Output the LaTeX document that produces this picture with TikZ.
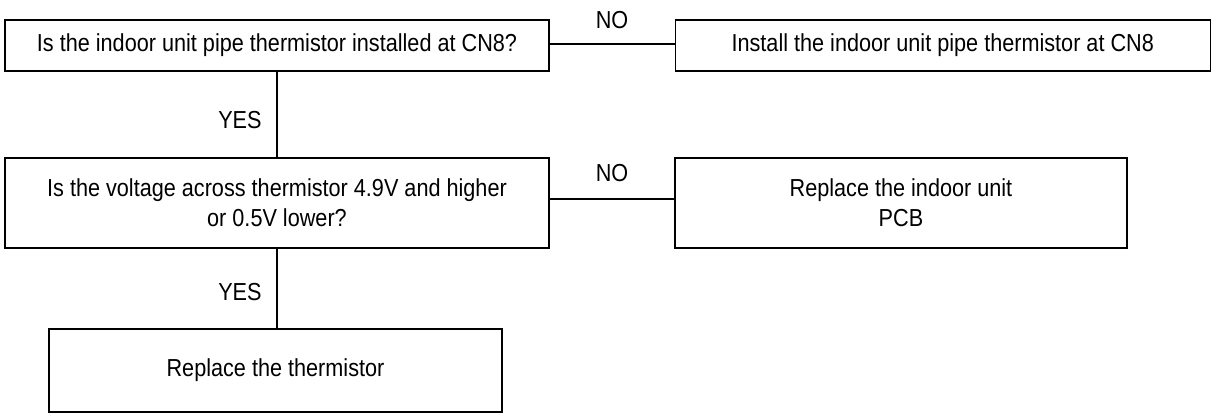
\documentclass[tikz,border=0pt]{standalone}
\usepackage{fontspec}
\setmainfont{Liberation Sans}[FakeStretch=0.88]
\usepackage{tikz}
\tikzset{
        stepbox/.style = {rectangle, draw=black, line width=0.6pt, align=center,
            inner sep=0pt, font=\fontsize{12.3}{15}\selectfont},
        answer/.style = {inner sep=0pt, font=\fontsize{12.3}{14}\selectfont},
        link/.style = {draw=black, line width=0.6pt}
    }

\begin{document}
\begin{tikzpicture}[x=0.5pt, y=-0.5pt]
            \useasboundingbox (0,0) rectangle (1212,413);
            % questions
            \node [stepbox, minimum width=272pt, minimum height=25.5pt] (chkpipe) at (277,45.5)
                {Is the indoor unit pipe thermistor installed at CN8?};
            \node [stepbox, minimum width=272pt, minimum height=45pt] (chkvolt) at (277,203)
                {Is the voltage across thermistor 4.9V and higher\\or 0.5V lower?};
            % actions
            \node [stepbox, minimum width=267.5pt, minimum height=25.5pt] (install) at (942.75,45.5)
                {Install the indoor unit pipe thermistor at CN8};
            \node [stepbox, minimum width=226pt, minimum height=45pt] (replpcb) at (901,203)
                {Replace the indoor unit\\PCB};
            \node [stepbox, minimum width=226.5pt, minimum height=41.5pt] (replth) at (275.5,370.5)
                {Replace the thermistor};
            % answers
            \node [answer] (no1) at (612,20) {NO};
            \node [answer] (no2) at (612,173) {NO};
            \node [answer, anchor=east] (yes1) at (262,120) {YES};
            \node [answer, anchor=east] (yes2) at (262,292) {YES};
            % connectors
            \draw [link] ([yshift=0.75pt]chkpipe.east) -- ([yshift=0.75pt]install.west);
            \draw [link] (chkpipe.south) -- (chkvolt.north);
            \draw [link] ([yshift=2pt]chkvolt.east) -- ([yshift=2pt]replpcb.west);
            \draw [link] (chkvolt.south) -- (chkvolt.south |- replth.north);
        \end{tikzpicture}
\end{document}
